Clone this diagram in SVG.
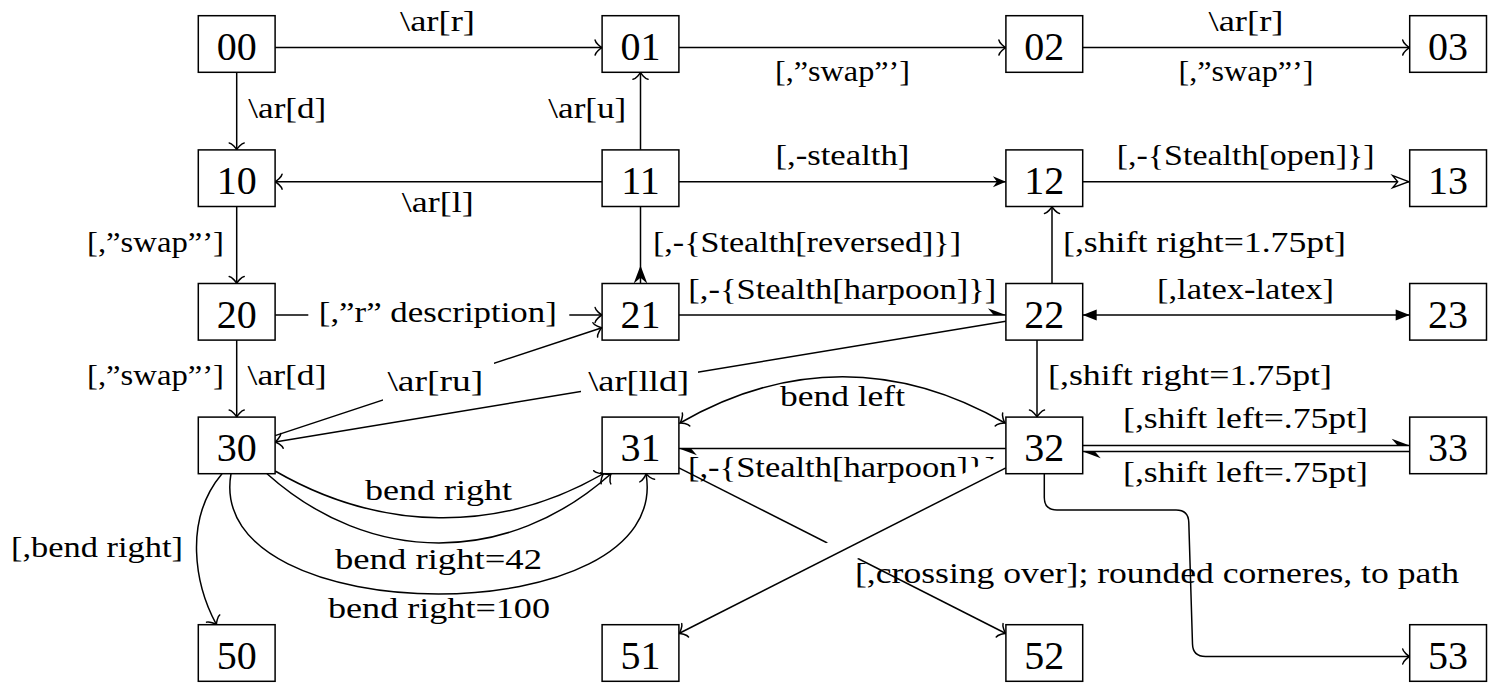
<svg xmlns="http://www.w3.org/2000/svg" width="1488" height="683" viewBox="0 0 1488 683">
<style>
.box{fill:#fff;stroke:#000;stroke-width:1.5}
.n{font-family:"Liberation Serif","Times New Roman",serif;font-size:40px;text-anchor:middle;fill:#000}
.l{font-family:"Liberation Serif","Times New Roman",serif;font-size:30px;fill:#000}
.e{fill:none;stroke:#000;stroke-width:1.5}
.to{marker-end:url(#to)}
.bg{fill:#fff;stroke:none}
.halo{fill:none;stroke:#fff;stroke-width:28}
</style>
<defs>
<marker id="to" markerUnits="userSpaceOnUse" orient="auto-start-reverse" markerWidth="20" markerHeight="20" viewBox="-10 -10 20 20" refX="0" refY="0" overflow="visible">
<path d="M-7,-7.5 C-6.6,-4.7 -1.4,-0.5 0,0 C-1.4,0.5 -6.6,4.7 -7,7.5" fill="none" stroke="#000" stroke-width="1.5" stroke-linecap="round"/>
</marker>
<marker id="stealth" markerUnits="userSpaceOnUse" orient="auto-start-reverse" markerWidth="30" markerHeight="30" viewBox="-20 -15 30 30" refX="0" refY="0" overflow="visible">
<path d="M0,0 L-13,-5.5 L-9,0 L-13,5.5 Z" fill="#000"/>
</marker>
<marker id="open" markerUnits="userSpaceOnUse" orient="auto-start-reverse" markerWidth="30" markerHeight="30" viewBox="-20 -15 30 30" refX="0" refY="0" overflow="visible">
<path d="M-1,0 L-17,-6 L-12,0 L-17,6 Z" fill="#fff" stroke="#000" stroke-width="1.4"/>
</marker>
<marker id="harpoon" markerUnits="userSpaceOnUse" orient="auto-start-reverse" markerWidth="30" markerHeight="30" viewBox="-20 -15 30 30" refX="0" refY="0" overflow="visible">
<path d="M0,0 L-18,-6.75 L-12.2,0 Z" fill="#000"/>
</marker>
<marker id="latex" markerUnits="userSpaceOnUse" orient="auto-start-reverse" markerWidth="30" markerHeight="30" viewBox="-20 -15 30 30" refX="0" refY="0" overflow="visible">
<path d="M0,0 L-14,-5.5 L-14,5.5 Z" fill="#000"/>
</marker>
</defs>
<rect width="1488" height="683" fill="#fff"/>
<g id="connectors">
<g id="e00-01"><path class="e to" d="M275.1,47.6 H602.1"/><text class="l" x="400" y="31" textLength="75" lengthAdjust="spacingAndGlyphs">\ar[r]</text></g>
<g id="e01-02"><path class="e to" d="M678.9,47.6 H1005.9"/><text class="l" x="775" y="81" textLength="135" lengthAdjust="spacingAndGlyphs">[,”swap”’]</text></g>
<g id="e02-03"><path class="e to" d="M1082.7,47.6 H1409.7"/><text class="l" x="1208.5" y="31" textLength="75" lengthAdjust="spacingAndGlyphs">\ar[r]</text><text class="l" x="1178.5" y="81" textLength="135" lengthAdjust="spacingAndGlyphs">[,”swap”’]</text></g>
<g id="e00-10"><path class="e to" d="M236.7,72.3 V149.9"/><text class="l" x="248.3" y="118.3" textLength="78" lengthAdjust="spacingAndGlyphs">\ar[d]</text></g>
<g id="e11-01"><path class="e to" d="M640.5,149.9 V72.3"/><text class="l" x="548.3" y="118.3" textLength="78" lengthAdjust="spacingAndGlyphs">\ar[u]</text></g>
<g id="e11-10"><path class="e to" d="M602.1,181.7 H275.1"/><text class="l" x="401.7" y="212" textLength="72" lengthAdjust="spacingAndGlyphs">\ar[l]</text></g>
<g id="e11-12"><path class="e" marker-end="url(#stealth)" d="M678.9,181.7 H1005.9"/><text class="l" x="775.4" y="165" textLength="134" lengthAdjust="spacingAndGlyphs">[,-stealth]</text></g>
<g id="e12-13"><path class="e" marker-end="url(#open)" d="M1082.7,181.7 H1409.7"/><text class="l" x="1116.7" y="165" textLength="258" lengthAdjust="spacingAndGlyphs">[,-{Stealth[open]}]</text></g>
<g id="e10-20"><path class="e to" d="M236.7,206.5 V283.5"/><text class="l" x="87" y="251.5" textLength="137" lengthAdjust="spacingAndGlyphs">[,”swap”’]</text></g>
<g id="e11-21"><path class="e" d="M640.5,206.5 V283.5"/><path d="M640.5,265.5 L647.3,283.5 L640.5,277.7 L633.7,283.5 Z" fill="#000"/><text class="l" x="653" y="251.5" textLength="308" lengthAdjust="spacingAndGlyphs">[,-{Stealth[reversed]}]</text></g>
<g id="e20-21"><path class="e to" d="M275.1,315 H602.1"/><rect class="bg" x="308.3" y="293" width="261" height="44"/><text class="l" x="318.8" y="321.5" textLength="238" lengthAdjust="spacingAndGlyphs">[,”r” description]</text></g>
<g id="e21-22"><path class="e" marker-end="url(#harpoon)" d="M678.9,315 H1005.9"/><text class="l" x="688.3" y="298.5" textLength="308" lengthAdjust="spacingAndGlyphs">[,-{Stealth[harpoon]}]</text></g>
<g id="e22-12"><path class="e to" d="M1052,283.5 V206.5"/><text class="l" x="1063" y="252" textLength="283" lengthAdjust="spacingAndGlyphs">[,shift right=1.75pt]</text></g>
<g id="e22-23"><path class="e" marker-start="url(#latex)" marker-end="url(#latex)" d="M1082.7,315 H1409.7"/><text class="l" x="1157" y="298.5" textLength="177" lengthAdjust="spacingAndGlyphs">[,latex-latex]</text></g>
<g id="e20-30"><path class="e to" d="M236.7,340.1 V417.1"/><text class="l" x="87" y="385" textLength="137" lengthAdjust="spacingAndGlyphs">[,”swap”’]</text><text class="l" x="247.5" y="385" textLength="79" lengthAdjust="spacingAndGlyphs">\ar[d]</text></g>
<g id="e30-21"><path class="e to" d="M275.1,435.6 L601.9,327.7"/><rect class="bg" x="383" y="362" width="111" height="42"/><text class="l" x="387.4" y="391" textLength="96" lengthAdjust="spacingAndGlyphs">\ar[ru]</text></g>
<g id="e22-30"><path class="e to" d="M1005.9,321.3 L275.1,442"/><rect class="bg" x="581" y="362" width="117" height="42"/><text class="l" x="588.2" y="391" textLength="101" lengthAdjust="spacingAndGlyphs">\ar[lld]</text></g>
<g id="e22-32"><path class="e to" d="M1037,340.1 V417.1"/><text class="l" x="1048" y="385" textLength="284" lengthAdjust="spacingAndGlyphs">[,shift right=1.75pt]</text></g>
<g id="e31-32"><path class="e" marker-start="url(#to)" marker-end="url(#to)" d="M680,423 C787,361.3 898,361.3 1005,423"/><text class="l" x="780" y="406" textLength="125" lengthAdjust="spacingAndGlyphs">bend left</text></g>
<g id="e32-31"><path class="e" marker-end="url(#harpoon)" d="M1005.9,448.5 H678.9"/><text class="l" x="688" y="477" textLength="308" lengthAdjust="spacingAndGlyphs">[,-{Stealth[harpoon]}]</text></g>
<g id="e32-33"><path class="e" marker-end="url(#harpoon)" d="M1082.7,445.5 H1409.7"/><text class="l" x="1123" y="428" textLength="245" lengthAdjust="spacingAndGlyphs">[,shift left=.75pt]</text></g>
<g id="e33-32"><path class="e" marker-end="url(#harpoon)" d="M1409.7,451.5 H1082.7"/><text class="l" x="1123" y="481.5" textLength="245" lengthAdjust="spacingAndGlyphs">[,shift left=.75pt]</text></g>
<g id="e30-50"><path class="e to" d="M222,473.7 C183,520 195,585 216.5,624.7"/><text class="l" x="11" y="557" textLength="172" lengthAdjust="spacingAndGlyphs">[,bend right]</text></g>
<g id="e30-31a"><path class="e to" d="M275.1,471 C380,531.5 498,534.5 603.5,473.7"/><text class="l" x="365" y="500" textLength="147" lengthAdjust="spacingAndGlyphs">bend right</text></g>
<g id="e30-31b"><path class="e to" d="M267,473.7 C370,566 508,566 611,473.7"/><text class="l" x="335" y="569" textLength="207" lengthAdjust="spacingAndGlyphs">bend right=42</text></g>
<g id="e30-31c"><path class="e to" d="M231,473.7 C203,634 674,634 646,473.7"/><text class="l" x="328" y="618" textLength="222" lengthAdjust="spacingAndGlyphs">bend right=100</text></g>
<g id="e31-52"><path class="e to" d="M678.9,467.8 L1005.9,633.5"/><text class="l" x="855" y="582.5" textLength="604" lengthAdjust="spacingAndGlyphs">[,crossing over]; rounded corneres, to path</text></g>
<g id="e32-51"><path class="halo" d="M1005.9,467.8 L678.9,633.5"/><path class="e to" d="M1005.9,467.8 L678.9,633.5"/></g>
<g id="e32-53"><path class="e to" d="M1044.3,473.7 V497.5 Q1044.3,510 1057,510 H1176 Q1188.5,510 1188.8,522.5 L1192.5,644 Q1192.8,656.5 1205.5,656.5 H1409.7"/></g>
</g>
<g id="nodes">
<g id="n00"><rect class="box" x="198.3" y="15.7" width="76.8" height="56.6"/><text class="n" x="236.7" y="60">00</text></g>
<g id="n01"><rect class="box" x="602.1" y="15.7" width="76.8" height="56.6"/><text class="n" x="640.5" y="60">01</text></g>
<g id="n02"><rect class="box" x="1005.9" y="15.7" width="76.8" height="56.6"/><text class="n" x="1044.3" y="60">02</text></g>
<g id="n03"><rect class="box" x="1409.7" y="15.7" width="76.8" height="56.6"/><text class="n" x="1448.1" y="60">03</text></g>
<g id="n10"><rect class="box" x="198.3" y="149.9" width="76.8" height="56.6"/><text class="n" x="236.7" y="194.2">10</text></g>
<g id="n11"><rect class="box" x="602.1" y="149.9" width="76.8" height="56.6"/><text class="n" x="640.5" y="194.2">11</text></g>
<g id="n12"><rect class="box" x="1005.9" y="149.9" width="76.8" height="56.6"/><text class="n" x="1044.3" y="194.2">12</text></g>
<g id="n13"><rect class="box" x="1409.7" y="149.9" width="76.8" height="56.6"/><text class="n" x="1448.1" y="194.2">13</text></g>
<g id="n20"><rect class="box" x="198.3" y="283.5" width="76.8" height="56.6"/><text class="n" x="236.7" y="327.8">20</text></g>
<g id="n21"><rect class="box" x="602.1" y="283.5" width="76.8" height="56.6"/><text class="n" x="640.5" y="327.8">21</text></g>
<g id="n22"><rect class="box" x="1005.9" y="283.5" width="76.8" height="56.6"/><text class="n" x="1044.3" y="327.8">22</text></g>
<g id="n23"><rect class="box" x="1409.7" y="283.5" width="76.8" height="56.6"/><text class="n" x="1448.1" y="327.8">23</text></g>
<g id="n30"><rect class="box" x="198.3" y="417.1" width="76.8" height="56.6"/><text class="n" x="236.7" y="461.4">30</text></g>
<g id="n31"><rect class="box" x="602.1" y="417.1" width="76.8" height="56.6"/><text class="n" x="640.5" y="461.4">31</text></g>
<g id="n32"><rect class="box" x="1005.9" y="417.1" width="76.8" height="56.6"/><text class="n" x="1044.3" y="461.4">32</text></g>
<g id="n33"><rect class="box" x="1409.7" y="417.1" width="76.8" height="56.6"/><text class="n" x="1448.1" y="461.4">33</text></g>
<g id="n50"><rect class="box" x="198.3" y="624.7" width="76.8" height="56.6"/><text class="n" x="236.7" y="669">50</text></g>
<g id="n51"><rect class="box" x="602.1" y="624.7" width="76.8" height="56.6"/><text class="n" x="640.5" y="669">51</text></g>
<g id="n52"><rect class="box" x="1005.9" y="624.7" width="76.8" height="56.6"/><text class="n" x="1044.3" y="669">52</text></g>
<g id="n53"><rect class="box" x="1409.7" y="624.7" width="76.8" height="56.6"/><text class="n" x="1448.1" y="669">53</text></g>
</g>
</svg>
